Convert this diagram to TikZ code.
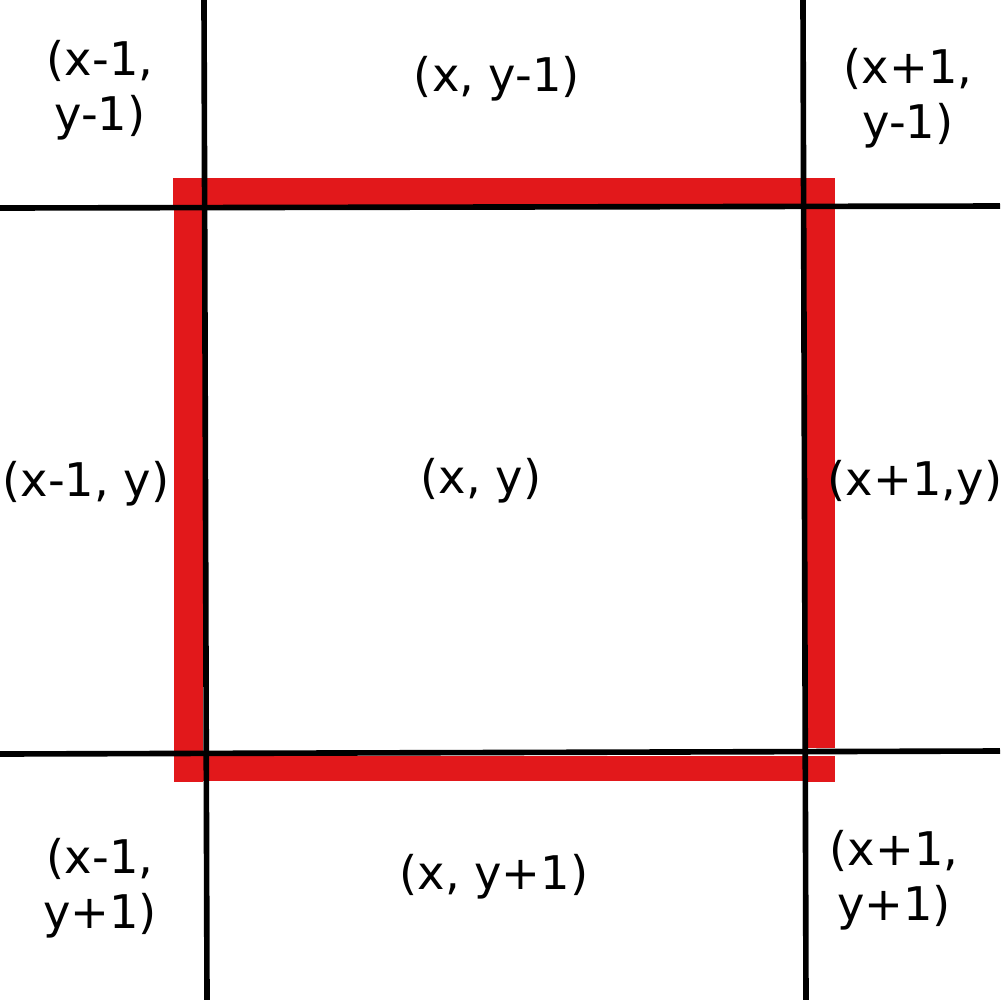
\documentclass[tikz,border=0pt]{standalone}
\usepackage{fontspec}
\setmainfont{DejaVu Sans}
\definecolor{cellred}{RGB}{226,24,27}
\begin{document}
\begin{tikzpicture}[x=0.1mm, y=-0.1mm,
  gridline/.style={line width=1.6pt, black},
  redbar/.style={fill=cellred},
  lbl/.style={font=\fontsize{13.2}{15.6}\selectfont, align=center, inner sep=0pt}]
  \useasboundingbox (0,0) rectangle (1000,1000);

  % red border round the centre cell
  \fill[redbar] (173,178) rectangle (834,205);
  \fill[redbar] (174,178) rectangle (203,782);
  \fill[redbar] (806,178) rectangle (835,748);
  \fill[redbar] (807,756) rectangle (835,782);
  \fill[redbar] (176,756) rectangle (835,781);

  % grid
  \draw[gridline] (204,0) -- (207,1000);
  \draw[gridline] (803,0) -- (806,1000);
  \draw[gridline] (0,208) -- (1000,206);
  \draw[gridline] (0,754) -- (1000,751);

  \node[lbl] (nw) at (100,90) {(x-1,\\y-1)};
  \node[lbl] (n)  at (497,79) {(x, y-1)};
  \node[lbl] (ne) at (908,98) {(x+1,\\y-1)};
  \node[lbl] (w)  at (86,484) {(x-1, y)};
  \node[lbl] (c)  at (481,481) {(x, y)};
  \node[lbl] (e)  at (915,483) {(x+1,y)};
  \node[lbl] (sw) at (100,888) {(x-1,\\y+1)};
  \node[lbl] (s)  at (494,877) {(x, y+1)};
  \node[lbl] (se) at (894,880) {(x+1,\\y+1)};
\end{tikzpicture}
\end{document}
